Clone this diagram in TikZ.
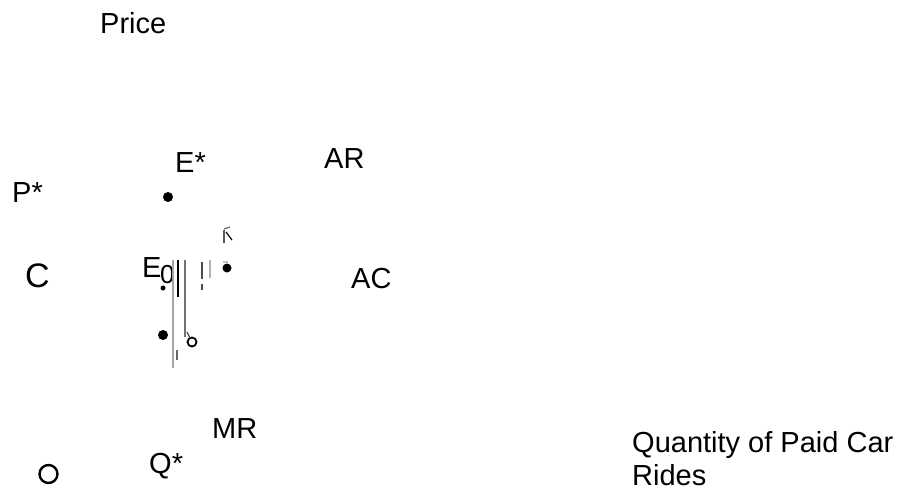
\documentclass[tikz,border=0pt]{standalone}
\usepackage{fontspec}
\setmainfont{Liberation Sans}
\usetikzlibrary{positioning}

\begin{document}
\begin{tikzpicture}[x=1pt,y=-1pt,lbl/.style={anchor=base west,inner sep=0pt,font=\fontsize{29}{33}\selectfont},dot/.style={circle,fill=black,inner sep=0pt,minimum size=10pt},trace/.style={line width=1.2pt}]
	\useasboundingbox (0,0) rectangle (902,490);

	% axis labels
	\node[lbl] (price) at (100,33) {Price};
	\node[lbl,align=left,anchor=north west] (qty) at (632,431) {Quantity of Paid Car\\Rides};

	% curve and point labels
	\node[lbl] (estar) at (175,172) {E*};
	\node[lbl] (ar) at (324,168) {AR};
	\node[lbl] (pstar) at (12,202) {P*};
	\node[lbl,font=\fontsize{34}{40}\selectfont] (c) at (25,287) {C};
	\node[lbl] (e) at (142,277) {E};
	\node[lbl,font=\fontsize{26}{30}\selectfont] (zero) at (160,283) {0};
	\node[lbl] (ac) at (351,288) {AC};
	\node[lbl] (mr) at (212,438) {MR};
	\node[lbl] (qstar) at (149,473) {Q*};
	\node[circle,draw,line width=2.4pt,minimum width=18pt,inner sep=0pt] (origin) at (48.5,474) {};

	% points
	\node[dot] (pe1) at (168,197) {};
	\node[dot,minimum size=9pt] (pe2) at (227,268) {};
	\node[dot] (pe3) at (163,335) {};
	\node[dot,minimum size=5pt] (pe4) at (163,288) {};
	\node[circle,draw,line width=1.8pt,minimum size=9pt,inner sep=0pt] (pb) at (192,342) {};

	% broken traces
	\draw[trace,black!35] (173,260) -- (173,368);
	\draw[trace,black] (178,260) -- (178,297);
	\draw[trace,black!55] (185,260) -- (185,337);
	\draw[trace,black!70] (202,262) -- (202,279) (202,284) -- (202,290);
	\draw[trace,black!30] (210,260) -- (210,278);
	\draw[trace,black!60] (177,350) -- (177,360);
	\draw[trace,black!70] (187,332) -- (190,338);
	\draw[trace,black] (224,230) -- (224,243) (226,232) -- (232,240);
	\draw[trace,black!60] (224,229) -- (230,227);
	\draw[trace,black!25] (223,262) -- (228,262);
\end{tikzpicture}
\end{document}
